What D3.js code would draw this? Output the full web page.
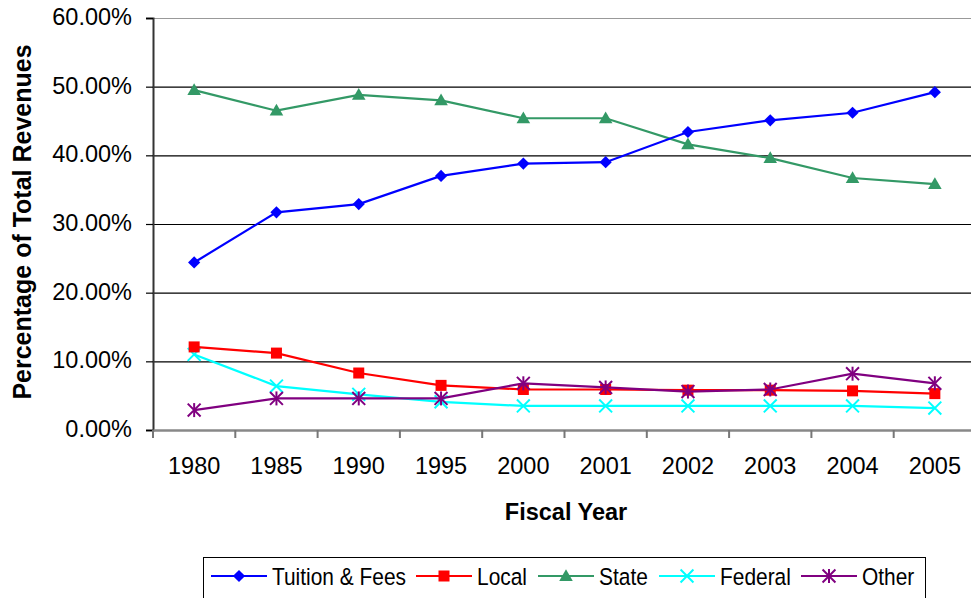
<!DOCTYPE html>
<html>
<head>
<meta charset="utf-8">
<script src="https://cdn.jsdelivr.net/npm/d3@7"></script>
<style>
  body { margin: 0; background: #fff; }
  svg { display: block; font-family: "Liberation Sans", Arial, sans-serif; }
</style>
</head>
<body>
<div class="chart"></div>
<script>
var width = 971,
    height = 598;

// data (percent of total revenues)
var years = ["1980", "1985", "1990", "1995", "2000", "2001", "2002", "2003", "2004", "2005"];
var tuition = [24.4, 31.7, 32.9, 37.0, 38.8, 39.0, 43.4, 45.1, 46.2, 49.2];
var local   = [12.1, 11.2, 8.3, 6.5, 5.9, 5.9, 5.8, 5.8, 5.7, 5.3];
var state   = [49.5, 46.5, 48.8, 48.0, 45.4, 45.4, 41.6, 39.6, 36.7, 35.8];
var federal = [11.0, 6.4, 5.2, 4.1, 3.5, 3.5, 3.5, 3.5, 3.5, 3.2];
var other   = [2.9, 4.6, 4.6, 4.6, 6.8, 6.2, 5.6, 5.9, 8.2, 6.8];
var yTicks  = [0, 10, 20, 30, 40, 50, 60];

var series = [
  {name: "Tuition & Fees", values: tuition, color: "#0000ff", marker: "diamond"},
  {name: "Local",          values: local,   color: "#ff0000", marker: "square"},
  {name: "State",          values: state,   color: "#339966", marker: "triangle"},
  {name: "Federal",        values: federal, color: "#00ffff", marker: "x"},
  {name: "Other",          values: other,   color: "#800080", marker: "star"}
];

var margin = {left: 153, top: 18, right: -5, bottom: 168};

var svg = d3.select(".chart").append("svg")
    .attr("width", width)
    .attr("height", height);

var x = d3.scaleBand()
    .domain(years)
    .range([margin.left, width - margin.right]);

var y = d3.scaleLinear()
    .domain([0, 60])
    .range([height - margin.bottom, margin.top]);

// gridlines
svg.append("g")
  .selectAll("line")
  .data(yTicks.filter(function(d) { return d > 0; }))
  .enter().append("line")
    .attr("x1", margin.left)
    .attr("x2", width)
    .attr("y1", function(d) { return y(d) + 0.5; })
    .attr("y2", function(d) { return y(d) + 0.5; })
    .attr("stroke", function(d) { return d == 60 ? "#999" : "#000"; })
    .attr("stroke-width", 1.2);

// y axis
var yAxis = svg.append("g")
    .attr("transform", "translate(" + margin.left + ",0)")
    .call(d3.axisLeft(y).tickValues(yTicks).tickSize(7).tickPadding(14)
      .tickFormat(function(d) { return d.toFixed(2) + "%"; }));
yAxis.select(".domain").attr("stroke", "#333").attr("stroke-width", 2);
yAxis.selectAll(".tick line").attr("stroke", "#000").attr("stroke-width", 1.2);
yAxis.selectAll(".tick text")
    .attr("fill", "#000")
    .attr("dy", "0.28em")
    .style("font-size", "23.5px")
    .style("font-family", "'Liberation Sans', Arial, sans-serif");

// x axis
var xAxis = svg.append("g")
    .attr("transform", "translate(0," + y(0) + ")")
    .call(d3.axisBottom(x).tickSize(8).tickSizeOuter(0));
xAxis.select(".domain").attr("stroke", "#888").attr("stroke-width", 2.5);
xAxis.selectAll(".tick line")
    .attr("transform", function() { return "translate(" + (-x.bandwidth() / 2) + ",0)"; })
    .attr("stroke", "#777").attr("stroke-width", 2);
xAxis.selectAll(".tick text")
    .attr("fill", "#000")
    .attr("dy", "0")
    .attr("y", 44)
    .style("font-size", "23.5px")
    .style("font-family", "'Liberation Sans', Arial, sans-serif");

// axis titles
svg.append("text")
    .attr("x", 566)
    .attr("y", 520)
    .attr("text-anchor", "middle")
    .style("font-size", "23.5px")
    .style("font-weight", "bold")
    .text("Fiscal Year");

svg.append("text")
    .attr("transform", "translate(31,222) rotate(-90)")
    .attr("text-anchor", "middle")
    .style("font-size", "25px")
    .style("font-weight", "bold")
    .text("Percentage of Total Revenues");

function cx(i) { return x(years[i]) + x.bandwidth() / 2; }

function drawMarker(g, type, color, px, py) {
  if (type == "diamond") {
    g.append("path").attr("d", d3.symbol().type(d3.symbolDiamond2).size(95)())
      .attr("transform", "translate(" + px + "," + py + ")")
      .attr("fill", color);
  } else if (type == "square") {
    g.append("rect").attr("x", px - 5.5).attr("y", py - 5.5)
      .attr("width", 11).attr("height", 11).attr("fill", color);
  } else if (type == "triangle") {
    g.append("path").attr("d", d3.symbol().type(d3.symbolTriangle).size(80)())
      .attr("transform", "translate(" + px + "," + (py + 1) + ")")
      .attr("fill", color);
  } else if (type == "x") {
    g.append("path").attr("d", d3.symbol().type(d3.symbolTimes).size(110)())
      .attr("transform", "translate(" + px + "," + py + ")")
      .attr("fill", "none").attr("stroke", color).attr("stroke-width", 2);
  } else if (type == "star") {
    g.append("path").attr("d", d3.symbol().type(d3.symbolTimes).size(110)())
      .attr("transform", "translate(" + px + "," + py + ")")
      .attr("fill", "none").attr("stroke", color).attr("stroke-width", 2);
    g.append("line").attr("x1", px).attr("x2", px).attr("y1", py - 7).attr("y2", py + 7)
      .attr("stroke", color).attr("stroke-width", 2);
  }
}

var line = d3.line()
    .x(function(d, i) { return cx(i); })
    .y(function(d) { return y(d); });

// draw in an order that keeps later series on top like the reference
var order = [2, 0, 3, 1, 4];
order.forEach(function(k) {
  var s = series[k];
  var g = svg.append("g").attr("class", "series");
  g.append("path")
    .datum(s.values)
    .attr("d", line)
    .attr("fill", "none")
    .attr("stroke", s.color)
    .attr("stroke-width", 2.2);
  s.values.forEach(function(v, i) {
    drawMarker(g, s.marker, s.color, cx(i), y(v));
  });
});

// legend
var legend = svg.append("g");
legend.append("rect")
    .attr("x", 203.5).attr("y", 557.5)
    .attr("width", 722).attr("height", 50)
    .attr("fill", "#fff").attr("stroke", "#000").attr("stroke-width", 1);

var legendX = [211, 416, 538, 659, 801];
series.forEach(function(s, i) {
  var lx = legendX[i], ly = 576;
  legend.append("line")
    .attr("x1", lx).attr("x2", lx + 56)
    .attr("y1", ly).attr("y2", ly)
    .attr("stroke", s.color).attr("stroke-width", 2.2);
  drawMarker(legend, s.marker, s.color, lx + 28, ly);
  legend.append("text")
    .attr("transform", "translate(" + (lx + 61) + "," + (ly + 9) + ") scale(0.89,1)")
    .style("font-size", "23.5px")
    .text(s.name);
});
</script>
</body>
</html>
